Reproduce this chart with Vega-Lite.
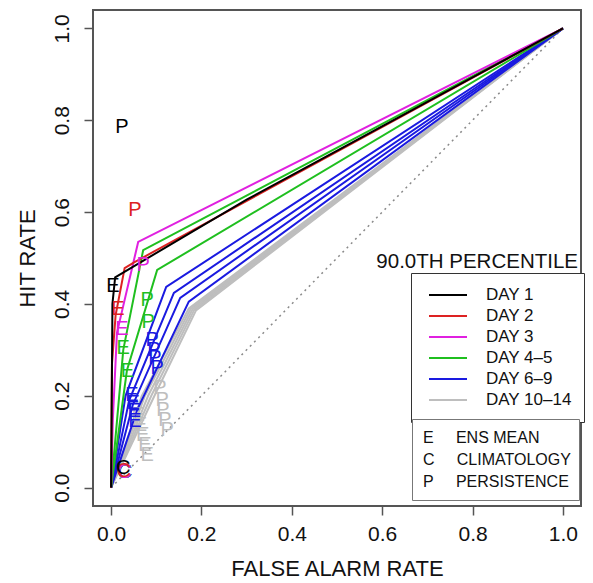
{
  "$schema": "https://vega.github.io/schema/vega-lite/v6.json",
  "width": 488,
  "height": 496,
  "autosize": {"type": "none"},
  "padding": {"left": 93, "top": 10, "right": 12, "bottom": 77},
  "background": "white",
  "title": {"text": "90.0TH PERCENTILE", "anchor": "end", "frame": "group", "orient": "top", "offset": 0, "dy": 272, "dx": -3, "baseline": "middle", "fontSize": 20.5, "fontWeight": "normal", "font": "Liberation Sans", "color": "#111"},
  "config": {
    "view": {"stroke": "#555", "strokeWidth": 2},
    "axis": {"grid": false, "domain": false, "tickColor": "#555", "tickWidth": 1.5, "tickSize": 9, "labelFont": "Liberation Sans", "labelFontSize": 21, "labelColor": "#111", "titleFont": "Liberation Sans", "titleFontSize": 22, "titleFontWeight": "normal", "titleColor": "#111"}
  },
  "datasets": {
    "diag": [{"fa": 0, "hr": 0}, {"fa": 1, "hr": 1}],
    "curves": [
      {"grp": "DAY 10–14", "curve": "g1", "ord": 0, "fa": 0, "hr": 0},
      {"grp": "DAY 10–14", "curve": "g1", "ord": 1, "fa": 0.068, "hr": 0.2},
      {"grp": "DAY 10–14", "curve": "g1", "ord": 2, "fa": 0.172, "hr": 0.39},
      {"grp": "DAY 10–14", "curve": "g1", "ord": 3, "fa": 1, "hr": 1},
      {"grp": "DAY 10–14", "curve": "g2", "ord": 0, "fa": 0, "hr": 0},
      {"grp": "DAY 10–14", "curve": "g2", "ord": 1, "fa": 0.075, "hr": 0.2},
      {"grp": "DAY 10–14", "curve": "g2", "ord": 2, "fa": 0.176, "hr": 0.389},
      {"grp": "DAY 10–14", "curve": "g2", "ord": 3, "fa": 1, "hr": 1},
      {"grp": "DAY 10–14", "curve": "g3", "ord": 0, "fa": 0, "hr": 0},
      {"grp": "DAY 10–14", "curve": "g3", "ord": 1, "fa": 0.082, "hr": 0.2},
      {"grp": "DAY 10–14", "curve": "g3", "ord": 2, "fa": 0.18, "hr": 0.388},
      {"grp": "DAY 10–14", "curve": "g3", "ord": 3, "fa": 1, "hr": 1},
      {"grp": "DAY 10–14", "curve": "g4", "ord": 0, "fa": 0, "hr": 0},
      {"grp": "DAY 10–14", "curve": "g4", "ord": 1, "fa": 0.089, "hr": 0.2},
      {"grp": "DAY 10–14", "curve": "g4", "ord": 2, "fa": 0.184, "hr": 0.387},
      {"grp": "DAY 10–14", "curve": "g4", "ord": 3, "fa": 1, "hr": 1},
      {"grp": "DAY 10–14", "curve": "g5", "ord": 0, "fa": 0, "hr": 0},
      {"grp": "DAY 10–14", "curve": "g5", "ord": 1, "fa": 0.096, "hr": 0.2},
      {"grp": "DAY 10–14", "curve": "g5", "ord": 2, "fa": 0.188, "hr": 0.386},
      {"grp": "DAY 10–14", "curve": "g5", "ord": 3, "fa": 1, "hr": 1},
      {"grp": "DAY 6–9", "curve": "b1", "ord": 0, "fa": 0, "hr": 0},
      {"grp": "DAY 6–9", "curve": "b1", "ord": 1, "fa": 0.032, "hr": 0.2},
      {"grp": "DAY 6–9", "curve": "b1", "ord": 2, "fa": 0.122, "hr": 0.437},
      {"grp": "DAY 6–9", "curve": "b1", "ord": 3, "fa": 1, "hr": 1},
      {"grp": "DAY 6–9", "curve": "b2", "ord": 0, "fa": 0, "hr": 0},
      {"grp": "DAY 6–9", "curve": "b2", "ord": 1, "fa": 0.04, "hr": 0.19},
      {"grp": "DAY 6–9", "curve": "b2", "ord": 2, "fa": 0.139, "hr": 0.424},
      {"grp": "DAY 6–9", "curve": "b2", "ord": 3, "fa": 1, "hr": 1},
      {"grp": "DAY 6–9", "curve": "b3", "ord": 0, "fa": 0, "hr": 0},
      {"grp": "DAY 6–9", "curve": "b3", "ord": 1, "fa": 0.048, "hr": 0.18},
      {"grp": "DAY 6–9", "curve": "b3", "ord": 2, "fa": 0.153, "hr": 0.413},
      {"grp": "DAY 6–9", "curve": "b3", "ord": 3, "fa": 1, "hr": 1},
      {"grp": "DAY 6–9", "curve": "b4", "ord": 0, "fa": 0, "hr": 0},
      {"grp": "DAY 6–9", "curve": "b4", "ord": 1, "fa": 0.058, "hr": 0.17},
      {"grp": "DAY 6–9", "curve": "b4", "ord": 2, "fa": 0.172, "hr": 0.405},
      {"grp": "DAY 6–9", "curve": "b4", "ord": 3, "fa": 1, "hr": 1},
      {"grp": "DAY 4–5", "curve": "gr1", "ord": 0, "fa": 0, "hr": 0},
      {"grp": "DAY 4–5", "curve": "gr1", "ord": 1, "fa": 0.027, "hr": 0.3},
      {"grp": "DAY 4–5", "curve": "gr1", "ord": 2, "fa": 0.071, "hr": 0.517},
      {"grp": "DAY 4–5", "curve": "gr1", "ord": 3, "fa": 1, "hr": 1},
      {"grp": "DAY 4–5", "curve": "gr2", "ord": 0, "fa": 0, "hr": 0},
      {"grp": "DAY 4–5", "curve": "gr2", "ord": 1, "fa": 0.035, "hr": 0.255},
      {"grp": "DAY 4–5", "curve": "gr2", "ord": 2, "fa": 0.102, "hr": 0.474},
      {"grp": "DAY 4–5", "curve": "gr2", "ord": 3, "fa": 1, "hr": 1},
      {"grp": "DAY 3", "curve": "m", "ord": 0, "fa": 0, "hr": 0},
      {"grp": "DAY 3", "curve": "m", "ord": 1, "fa": 0.004, "hr": 0.15},
      {"grp": "DAY 3", "curve": "m", "ord": 2, "fa": 0.013, "hr": 0.337},
      {"grp": "DAY 3", "curve": "m", "ord": 3, "fa": 0.06, "hr": 0.535},
      {"grp": "DAY 3", "curve": "m", "ord": 4, "fa": 1, "hr": 1},
      {"grp": "DAY 2", "curve": "r", "ord": 0, "fa": 0, "hr": 0},
      {"grp": "DAY 2", "curve": "r", "ord": 1, "fa": 0.002, "hr": 0.27},
      {"grp": "DAY 2", "curve": "r", "ord": 2, "fa": 0.01, "hr": 0.375},
      {"grp": "DAY 2", "curve": "r", "ord": 3, "fa": 0.03, "hr": 0.478},
      {"grp": "DAY 2", "curve": "r", "ord": 4, "fa": 0.05, "hr": 0.49},
      {"grp": "DAY 2", "curve": "r", "ord": 5, "fa": 1, "hr": 1},
      {"grp": "DAY 1", "curve": "k", "ord": 0, "fa": 0, "hr": 0},
      {"grp": "DAY 1", "curve": "k", "ord": 1, "fa": 0.003, "hr": 0.4},
      {"grp": "DAY 1", "curve": "k", "ord": 2, "fa": 0.009, "hr": 0.458},
      {"grp": "DAY 1", "curve": "k", "ord": 3, "fa": 0.3, "hr": 0.627},
      {"grp": "DAY 1", "curve": "k", "ord": 4, "fa": 1, "hr": 1}
    ],
    "markers": [
      {"grp": "DAY 10–14", "kind": "C", "fa": 0.03, "hr": 0.035},
      {"grp": "DAY 10–14", "kind": "C", "fa": 0.03, "hr": 0.035},
      {"grp": "DAY 10–14", "kind": "C", "fa": 0.03, "hr": 0.035},
      {"grp": "DAY 10–14", "kind": "C", "fa": 0.03, "hr": 0.035},
      {"grp": "DAY 10–14", "kind": "C", "fa": 0.03, "hr": 0.035},
      {"grp": "DAY 6–9", "kind": "C", "fa": 0.03, "hr": 0.034},
      {"grp": "DAY 6–9", "kind": "C", "fa": 0.03, "hr": 0.034},
      {"grp": "DAY 6–9", "kind": "C", "fa": 0.03, "hr": 0.034},
      {"grp": "DAY 6–9", "kind": "C", "fa": 0.03, "hr": 0.034},
      {"grp": "DAY 4–5", "kind": "C", "fa": 0.029, "hr": 0.035},
      {"grp": "DAY 4–5", "kind": "C", "fa": 0.029, "hr": 0.035},
      {"grp": "DAY 3", "kind": "C", "fa": 0.029, "hr": 0.034},
      {"grp": "DAY 2", "kind": "C", "fa": 0.028, "hr": 0.036},
      {"grp": "DAY 1", "kind": "C", "fa": 0.027, "hr": 0.042},
      {"grp": "DAY 10–14", "kind": "E", "fa": 0.06, "hr": 0.159},
      {"grp": "DAY 10–14", "kind": "E", "fa": 0.065, "hr": 0.137},
      {"grp": "DAY 10–14", "kind": "E", "fa": 0.07, "hr": 0.115},
      {"grp": "DAY 10–14", "kind": "E", "fa": 0.075, "hr": 0.093},
      {"grp": "DAY 10–14", "kind": "E", "fa": 0.08, "hr": 0.072},
      {"grp": "DAY 10–14", "kind": "P", "fa": 0.108, "hr": 0.217},
      {"grp": "DAY 10–14", "kind": "P", "fa": 0.113, "hr": 0.191},
      {"grp": "DAY 10–14", "kind": "P", "fa": 0.115, "hr": 0.17},
      {"grp": "DAY 10–14", "kind": "P", "fa": 0.119, "hr": 0.148},
      {"grp": "DAY 10–14", "kind": "P", "fa": 0.124, "hr": 0.126},
      {"grp": "DAY 6–9", "kind": "E", "fa": 0.046, "hr": 0.202},
      {"grp": "DAY 6–9", "kind": "E", "fa": 0.049, "hr": 0.185},
      {"grp": "DAY 6–9", "kind": "E", "fa": 0.051, "hr": 0.167},
      {"grp": "DAY 6–9", "kind": "E", "fa": 0.053, "hr": 0.146},
      {"grp": "DAY 6–9", "kind": "P", "fa": 0.091, "hr": 0.322},
      {"grp": "DAY 6–9", "kind": "P", "fa": 0.095, "hr": 0.3},
      {"grp": "DAY 6–9", "kind": "P", "fa": 0.097, "hr": 0.283},
      {"grp": "DAY 6–9", "kind": "P", "fa": 0.102, "hr": 0.261},
      {"grp": "DAY 4–5", "kind": "E", "fa": 0.027, "hr": 0.304},
      {"grp": "DAY 4–5", "kind": "E", "fa": 0.036, "hr": 0.255},
      {"grp": "DAY 4–5", "kind": "P", "fa": 0.08, "hr": 0.409},
      {"grp": "DAY 4–5", "kind": "P", "fa": 0.082, "hr": 0.361},
      {"grp": "DAY 3", "kind": "E", "fa": 0.024, "hr": 0.345},
      {"grp": "DAY 3", "kind": "P", "fa": 0.071, "hr": 0.485},
      {"grp": "DAY 2", "kind": "E", "fa": 0.015, "hr": 0.39},
      {"grp": "DAY 2", "kind": "P", "fa": 0.053, "hr": 0.604},
      {"grp": "DAY 1", "kind": "E", "fa": 0.004, "hr": 0.44},
      {"grp": "DAY 1", "kind": "P", "fa": 0.024, "hr": 0.785}
    ]
  },
  "encoding": {
    "x": {"field": "fa", "type": "quantitative", "scale": {"domain": [-0.04, 1.04], "nice": false, "zero": false}, "axis": {"values": [0, 0.2, 0.4, 0.6, 0.8, 1], "format": ".1f", "title": "FALSE ALARM RATE", "labelPadding": 8, "titlePadding": 14}},
    "y": {"field": "hr", "type": "quantitative", "scale": {"domain": [-0.04, 1.04], "nice": false, "zero": false}, "axis": {"values": [0, 0.2, 0.4, 0.6, 0.8, 1], "format": ".1f", "title": "HIT RATE", "labelAngle": -90, "labelAlign": "center", "labelBaseline": "bottom", "labelPadding": 12, "titlePadding": 12}}
  },
  "layer": [
    {
      "data": {"name": "diag"},
      "mark": {"type": "line", "strokeDash": [2, 4], "color": "#8a8a8a", "strokeWidth": 1.5}
    },
    {
      "data": {"name": "curves"},
      "mark": {"type": "line", "strokeWidth": 2},
      "encoding": {
        "color": {"field": "grp", "type": "nominal", "scale": {"domain": ["DAY 1", "DAY 2", "DAY 3", "DAY 4–5", "DAY 6–9", "DAY 10–14"], "range": ["#000000", "#dd2222", "#e020e0", "#1fbf1f", "#1a1ae0", "#bebebe"]},
          "legend": {"title": null, "orient": "none", "legendX": 318, "legendY": 263, "symbolType": "stroke", "symbolStrokeWidth": 2, "symbolSize": 1444, "labelFontSize": 17, "labelFont": "Liberation Sans", "labelColor": "#111", "labelOffset": 18, "padding": 12, "strokeColor": "#333", "fillColor": "white", "clipHeight": 20, "rowPadding": 1, "symbolOffset": 5}},
        "detail": {"field": "curve"},
        "order": {"field": "ord", "type": "quantitative"}
      }
    },
    {
      "data": {"name": "markers"},
      "mark": {"type": "text", "fontSize": 20, "font": "Liberation Sans", "align": "center", "baseline": "middle"},
      "encoding": {
        "text": {"field": "kind"},
        "color": {"field": "grp", "type": "nominal", "legend": null}
      }
    },
    {
      "data": {"name": "markers"},
      "mark": {"type": "point", "opacity": 0},
      "encoding": {
        "shape": {"field": "kind", "type": "nominal", "scale": {"domain": ["E", "C", "P"]},
          "legend": {"title": null, "orient": "none", "legendX": 319, "legendY": 409, "symbolOpacity": 0, "symbolSize": 1, "labelOffset": -13, "padding": 8, "strokeColor": "#777", "fillColor": "white", "clipHeight": 21, "rowPadding": 1, "labelFontSize": 16, "labelFont": "Liberation Sans", "labelColor": "#111",
            "labelExpr": "datum.value == 'E' ? 'E\u00a0\u00a0\u00a0\u00a0\u00a0ENS MEAN' : datum.value == 'C' ? 'C\u00a0\u00a0\u00a0\u00a0\u00a0CLIMATOLOGY' : 'P\u00a0\u00a0\u00a0\u00a0\u00a0PERSISTENCE'"}}
      }
    }
  ]
}
